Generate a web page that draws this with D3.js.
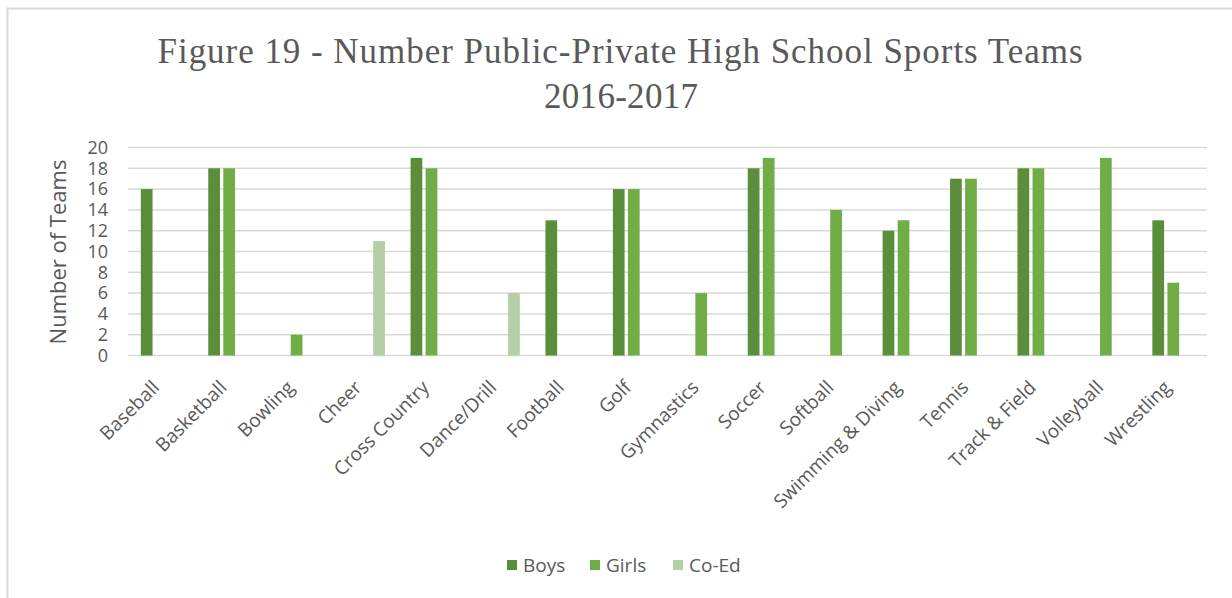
<!DOCTYPE html>
<html>
<head>
<meta charset="utf-8">
<script src="https://cdn.jsdelivr.net/npm/d3@7"></script>
<style>
  body { margin: 0; background: #fff; }
  svg { display: block; }
</style>
</head>
<body>
<svg id="chart"></svg>
<script>
const sports = ["Baseball", "Basketball", "Bowling", "Cheer", "Cross Country", "Dance/Drill",
  "Football", "Golf", "Gymnastics", "Soccer", "Softball", "Swimming & Diving",
  "Tennis", "Track & Field", "Volleyball", "Wrestling"];
const seriesNames = ["Boys", "Girls", "Co-Ed"];
const boys  = [16, 18, 0, 0, 19, 0, 13, 16, 0, 18, 0, 12, 17, 18, 0, 13];
const girls = [0, 18, 2, 0, 18, 0, 0, 16, 6, 19, 14, 13, 17, 18, 19, 7];
const coed  = [0, 0, 0, 11, 0, 6, 0, 0, 0, 0, 0, 0, 0, 0, 0, 0];
const yTicks = [0, 2, 4, 6, 8, 10, 12, 14, 16, 18, 20];
const colors = ["#5B8E3A", "#70AD47", "#B4CFA4"];

const width = 1232, height = 598;
const svg = d3.select("#chart").attr("width", width).attr("height", height);

// chart border
svg.append("rect")
  .attr("x", 7.5).attr("y", 8.5)
  .attr("width", width + 20).attr("height", height + 20)
  .attr("fill", "none").attr("stroke", "#D9D9D9").attr("stroke-width", 2);

// title
const title = svg.append("g")
  .attr("font-family", "'Liberation Serif', 'Times New Roman', serif")
  .attr("font-size", 35).attr("fill", "#595959").attr("text-anchor", "middle");
title.append("text").attr("x", 620).attr("y", 63)
  .attr("textLength", 925).attr("lengthAdjust", "spacing")
  .text("Figure 19 - Number Public-Private High School Sports Teams");
title.append("text").attr("x", 621).attr("y", 108)
  .attr("textLength", 154).attr("lengthAdjust", "spacing")
  .text("2016-2017");

// scales
const x0 = d3.scaleBand().domain(sports).range([128, 1207]);
const x1 = d3.scaleBand().domain(seriesNames)
  .range([x0.bandwidth() * 0.19, x0.bandwidth() * 0.81])
  .paddingInner(0.22);
const y = d3.scaleLinear().domain([0, 20]).range([355.5, 147.5]);

// gridlines
svg.append("g").selectAll("line")
  .data(yTicks).enter().append("line")
  .attr("x1", 128).attr("x2", 1207)
  .attr("y1", d => y(d)).attr("y2", d => y(d))
  .attr("stroke", "#D9D9D9").attr("stroke-width", 1.5);

// y axis
const yAxis = d3.axisLeft(y).tickValues(yTicks).tickSize(0).tickPadding(0);
const gy = svg.append("g").attr("transform", "translate(108,0)").call(yAxis);
gy.select(".domain").remove();
gy.selectAll("text")
  .attr("font-family", "'Open Sans', sans-serif")
  .attr("font-size", 18).attr("fill", "#595959");

svg.append("text")
  .attr("transform", "translate(66,252) rotate(-90)")
  .attr("text-anchor", "middle")
  .attr("font-family", "'Open Sans', sans-serif")
  .attr("font-size", 22).attr("fill", "#595959")
  .text("Number of Teams");

// bars
const rows = sports.map((s, i) => ({ sport: s, vals: [boys[i], girls[i], coed[i]] }));
const groups = svg.append("g").selectAll("g")
  .data(rows).enter().append("g")
  .attr("transform", d => `translate(${x0(d.sport)},0)`);
groups.selectAll("rect")
  .data(d => d.vals.map((v, k) => ({ key: seriesNames[k], v: v, k: k })).filter(d => d.v > 0))
  .enter().append("rect")
  .attr("x", d => x1(d.key))
  .attr("y", d => y(d.v))
  .attr("width", x1.bandwidth())
  .attr("height", d => y(0) - y(d.v))
  .attr("fill", d => colors[d.k]);

// x axis labels
const xAxis = d3.axisBottom(x0).tickSize(0).tickPadding(0);
const gx = svg.append("g").attr("transform", "translate(0,366)").call(xAxis);
gx.select(".domain").remove();
gx.selectAll("text")
  .attr("font-family", "'Open Sans', sans-serif")
  .attr("font-size", 19).attr("fill", "#595959")
  .attr("text-anchor", "end")
  .attr("dy", "0.35em")
  .attr("transform", "translate(-6,18) rotate(-45)");

// legend
const legendX = [507, 590, 673];
const legend = svg.append("g").selectAll("g")
  .data(seriesNames).enter().append("g")
  .attr("transform", (d, i) => `translate(${legendX[i]},560)`);
legend.append("rect").attr("width", 10).attr("height", 10)
  .attr("fill", (d, i) => colors[i]);
legend.append("text").attr("x", 16).attr("y", 5).attr("dy", "0.35em")
  .attr("font-family", "'Open Sans', sans-serif")
  .attr("font-size", 19).attr("fill", "#595959")
  .text(d => d);
</script>
</body>
</html>
